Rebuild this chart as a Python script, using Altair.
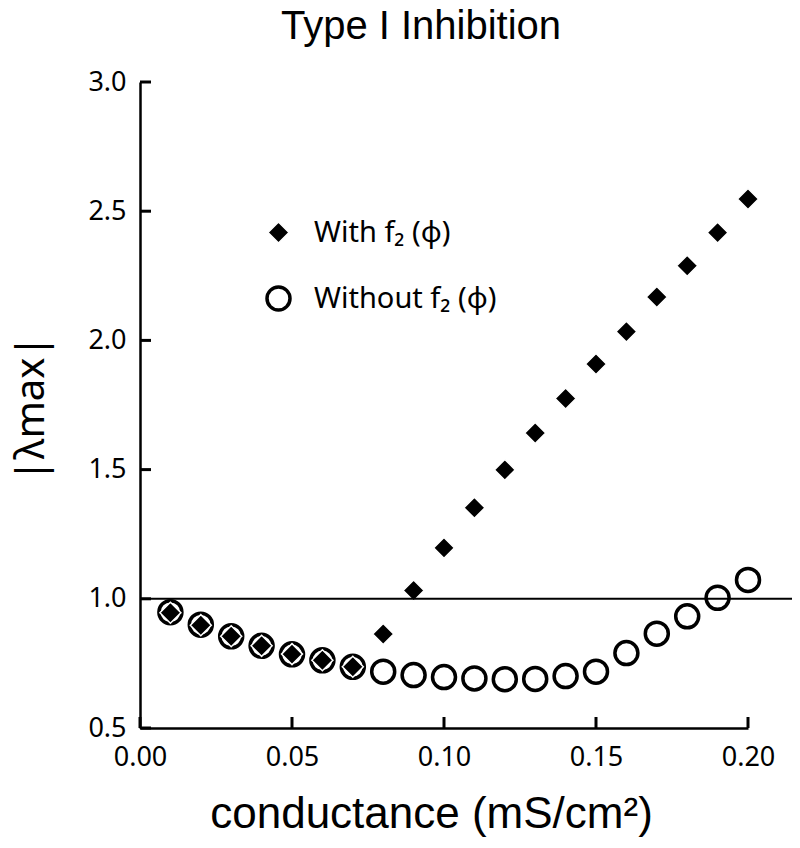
import altair as alt
import pandas as pd

# ---- data ----
conductance = [0.01, 0.02, 0.03, 0.04, 0.05, 0.06, 0.07, 0.08, 0.09, 0.10,
               0.11, 0.12, 0.13, 0.14, 0.15, 0.16, 0.17, 0.18, 0.19, 0.20]
with_f2 = [0.946, 0.898, 0.855, 0.818, 0.786, 0.762, 0.737, 0.864, 1.032, 1.197,
           1.352, 1.499, 1.642, 1.775, 1.909, 2.034, 2.168, 2.289, 2.417, 2.547]
without_f2 = [0.948, 0.900, 0.855, 0.818, 0.785, 0.762, 0.737, 0.718, 0.705, 0.697,
              0.692, 0.689, 0.690, 0.701, 0.718, 0.790, 0.865, 0.932, 1.004, 1.073]
series_names = ["With  f\u2082 (\u03d5)", "Without  f\u2082 (\u03d5)"]
x_ticks = [0.0, 0.05, 0.10, 0.15, 0.20]
y_ticks = [0.5, 1.0, 1.5, 2.0, 2.5, 3.0]
threshold = [1.0]
chart_title = ["Type I Inhibition"]

rows = []
for c, v in zip(conductance, without_f2):
    rows.append({"g": c, "lam": v, "series": series_names[1]})
for c, v in zip(conductance, with_f2):
    rows.append({"g": c, "lam": v, "series": series_names[0]})
df = pd.DataFrame(rows)

W, H = 608, 646
xs = alt.Scale(domain=[0, 0.2], nice=False, zero=False)
ys = alt.Scale(domain=[0.5, 3.0], nice=False, zero=False)

x_axis = alt.Axis(values=x_ticks, format=".2f", title="conductance (mS/cm\u00b2)",
                  ticks=False, grid=False, domainColor="black", domainWidth=2.5,
                  labelFont="Noto Sans", labelFontSize=27, labelColor="black",
                  labelPadding=16, labelFlush=False, labelOverlap=False,
                  titleFont="Liberation Sans", titleFontSize=44, titleFontWeight="normal",
                  titleColor="black", titleX=291, titleY=99, titleAlign="center",
                  titleBaseline="alphabetic")
y_axis = alt.Axis(values=y_ticks, format=".1f", title="|\u03bbmax|",
                  ticks=False, grid=False, domainColor="black", domainWidth=2.5,
                  labelFont="Noto Sans", labelFontSize=27, labelColor="black",
                  labelPadding=14, labelFlush=False, labelOverlap=False,
                  titleFont="Noto Sans", titleFontSize=40, titleFontWeight="normal",
                  titleColor="black", titleX=-109, titleY=326, titleAlign="center",
                  titleBaseline="middle")

legend = alt.Legend(orient="none", legendX=124, legendY=136,
                    labelFont="Noto Sans", labelFontSize=29, labelColor="black",
                    labelOffset=21, rowPadding=32, labelLimit=0)

dom = series_names
points = alt.Chart(df).mark_point(filled=True, opacity=1).encode(
    x=alt.X("g:Q", scale=xs, axis=x_axis),
    y=alt.Y("lam:Q", scale=ys, axis=y_axis),
    shape=alt.Shape("series:N", title=None, legend=legend,
                    scale=alt.Scale(domain=dom, range=["diamond", "circle"])),
    fill=alt.Fill("series:N", title=None,
                  scale=alt.Scale(domain=dom, range=["black", "white"])),
    stroke=alt.Stroke("series:N", title=None,
                      scale=alt.Scale(domain=dom, range=["white", "black"])),
    strokeWidth=alt.StrokeWidth("series:N", title=None,
                                scale=alt.Scale(type="ordinal", domain=dom, range=[1.5, 3.5])),
    size=alt.Size("series:N", title=None,
                  scale=alt.Scale(type="ordinal", domain=dom, range=[441, 529])),
)

thr = alt.Chart(pd.DataFrame({"lam": threshold})).mark_rule(
    color="black", strokeWidth=2
).encode(
    y=alt.Y("lam:Q", scale=ys), x=alt.value(0), x2=alt.value(653)
)

xtick = alt.Chart(pd.DataFrame({"g": x_ticks})).mark_rule(
    color="black", strokeWidth=3
).encode(
    x=alt.X("g:Q", scale=xs), y=alt.value(H), y2=alt.value(H - 11)
)
ytick = alt.Chart(pd.DataFrame({"lam": y_ticks})).mark_rule(
    color="black", strokeWidth=3
).encode(
    y=alt.Y("lam:Q", scale=ys), x=alt.value(0), x2=alt.value(11)
)

title = alt.Chart(pd.DataFrame({"t": chart_title})).mark_text(
    font="Liberation Sans", fontSize=40, color="black", align="center",
    baseline="alphabetic"
).encode(
    text="t:N", x=alt.value(281), y=alt.value(-43)
)

chart = alt.layer(points, thr, xtick, ytick, title).properties(
    width=W, height=H,
    autosize=alt.AutoSizeParams(type="none"),
    padding={"left": 132, "top": 74, "right": 44, "bottom": 112},
).configure_view(stroke=None)

chart.save("out.html", embed_options={"renderer": "svg", "actions": False})
